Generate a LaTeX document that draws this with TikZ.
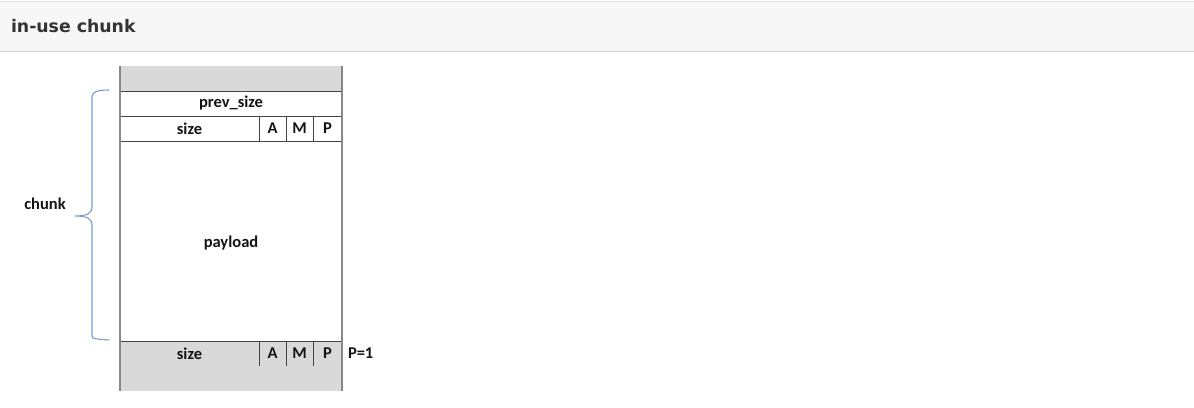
\documentclass[tikz,border=0pt]{standalone}
\usepackage{fontspec}
\setmainfont{Carlito}
\newfontfamily\hdrfont{DejaVu Sans}
\usetikzlibrary{positioning}
\definecolor{hdrbg}{HTML}{F7F7F7}
\definecolor{hdrline}{HTML}{CCCCCC}
\definecolor{bandgray}{HTML}{D9D9D9}
\definecolor{cellline}{HTML}{444444}
\definecolor{sideline}{HTML}{888888}
\definecolor{braceblue}{HTML}{7A9AD6}
\begin{document}
\begin{tikzpicture}[x=1pt, y=-1pt,
    every node/.style={inner sep=0pt, outer sep=0pt, font=\bfseries\fontsize{16.5}{18}\selectfont, text=black!92},
    cell/.style={draw=cellline, line width=1pt, minimum height=25pt},
    band/.style={fill=bandgray, minimum height=25pt, minimum width=222pt}]
    \useasboundingbox (0,0) rectangle (1194,407);
    % header strip
    \fill[hdrbg] (0,1) rectangle (1194,51);
    \draw[hdrline!60] (0,1) -- (1194,1);
    \draw[hdrline, line width=1pt] (0,51.5) -- (1194,51.5);
    \node[anchor=base west, font=\hdrfont\bfseries\fontsize{17.3}{19}\selectfont, text=black!80] (title) at (11,32) {in-use chunk};
    % chunk layout
    \node[band, anchor=north west] (top) at (120,66) {};
    \node[cell, below=0pt of top, minimum width=222pt] (prev) {prev\_size};
    \node[cell, anchor=north west, minimum width=139pt] (size) at (prev.south west) {size};
    \node[cell, right=0pt of size, minimum width=27pt] (a) {A};
    \node[cell, right=0pt of a, minimum width=27pt] (m) {M};
    \node[cell, right=0pt of m, minimum width=29pt] (p) {P};
    \node[cell, anchor=north west, minimum width=222pt, minimum height=200pt] (payload) at (size.south west) {};
    \node (plabel) at ([yshift=-2pt]payload.center) {payload};
    \node[cell, fill=bandgray, anchor=north west, minimum width=139pt] (nsize) at (payload.south west) {size};
    \node[cell, fill=bandgray, right=0pt of nsize, minimum width=27pt] (na) {A};
    \node[cell, fill=bandgray, right=0pt of na, minimum width=27pt] (nm) {M};
    \node[cell, fill=bandgray, right=0pt of nm, minimum width=29pt] (np) {P};
    \node[band, anchor=north west] (bot) at (nsize.south west) {};
    \draw[sideline, line width=1.2pt] (top.north west) -- (bot.south west);
    \draw[sideline, line width=1.2pt] (top.north east) -- (bot.south east);
    \node[anchor=west] (pbit) at ([xshift=6pt]np.east) {P=1};
    % brace
    \draw[braceblue, line width=1.1pt] (109,90) .. controls (97,90) and (92,92) .. (92,97) -- (92,207)
        .. controls (92,214) and (86,216) .. (75,216) .. controls (86,216) and (92,218) .. (92,225)
        -- (92,336) .. controls (92,339) and (96,339) .. (109,340);
    \node (chunk) at (45,204) {chunk};
\end{tikzpicture}
\end{document}
